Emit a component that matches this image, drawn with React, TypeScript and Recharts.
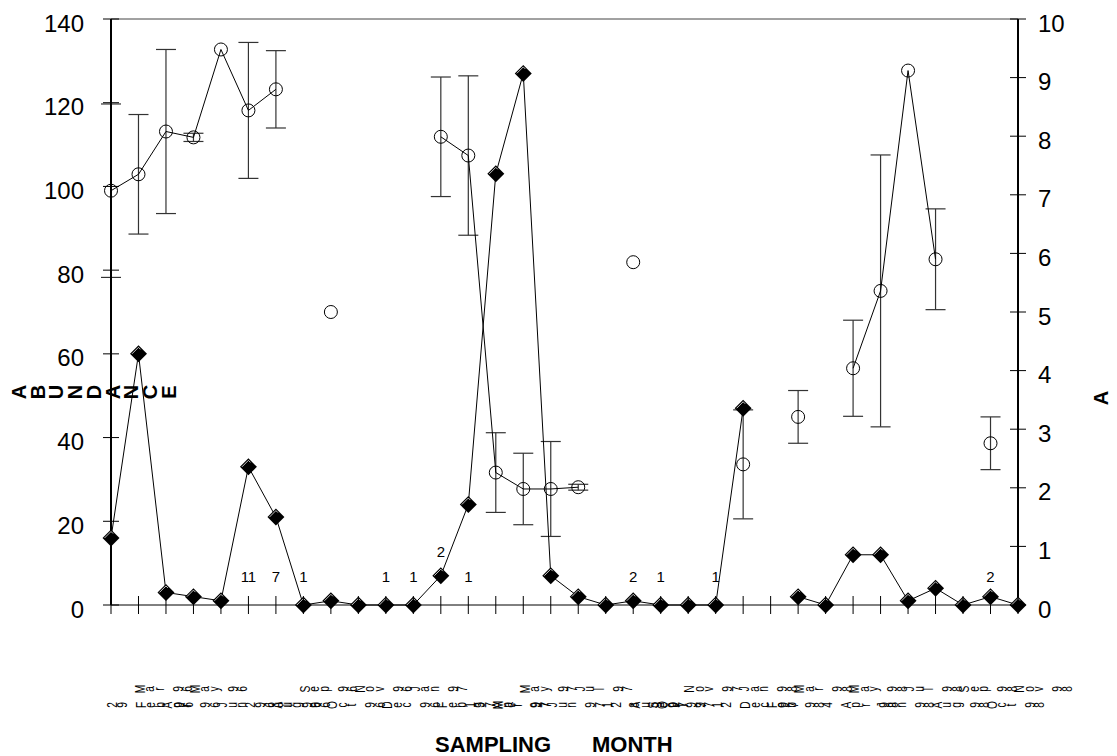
import React from "react";
import { ComposedChart, Line, XAxis, YAxis, ErrorBar, ReferenceLine, LabelList } from "recharts";

const FONT = "'Liberation Sans', Arial, Helvetica, sans-serif";

// sampling months, one per collection
const months = [
  "29 Feb 96", "Mar 96", "Apr 96", "May 96", "Jun 96", "2 Jul 96", "Aug 96", "Sep 96",
  "Oct 96", "Nov 96", "Dec 96", "Jan 97", "Feb 97", "13 Mar 97", "Apr 97", "May 97",
  "Jun 97", "Jul 97", "12 Aug 97", "8 Sep 97", "Oct 97", "Nov 97", "12 Dec 97", "Jan 98",
  "Feb 98", "Mar 98", "4 Apr 98", "May 98", "Jun 98", "Jul 98", "Aug 98", "Sep 98",
  "Oct 98", "Nov 98",
];

// abundance (left axis), filled diamonds
const abundance = [
  16, 60, 3, 2, 1, 33, 21, 0, 1, 0, 0, 0, 7, 24, 103, 127, 7, 2, 0, 1,
  0, 0, 0, 47, null, 2, 0, 12, 12, 1, 4, 0, 2, 0,
];

// mean value (right axis), open circles, with +/- error
const meanSize = [
  7.07, 7.35, 8.08, 7.98, 9.48, 8.44, 8.8, null, 5.0, null, null, null, 7.99, 7.67, 2.26, 1.98,
  1.98, 2.01, null, 5.85, null, null, null, 2.4, null, 3.21, null, 4.04, 5.36, 9.12, 5.9, null,
  2.76, null,
];
const sizeError = [
  1.48, 1.02, 1.4, 0.07, null, 1.16, 0.66, null, null, null, null, null, 1.02, 1.36, 0.68, 0.61,
  0.81, 0.05, null, null, null, null, null, 0.93, null, 0.45, null, 0.82, 2.32, null, 0.86, null,
  0.45, null,
];

// number of samples written above the axis, and the height it sits at (left axis units)
const sampleCount = [
  null, null, null, null, null, "11", "7", "1", null, null, "1", "1", "2", "1", null, null,
  null, null, null, "2", "1", null, "1", null, null, null, null, null, null, null, null, null,
  "2", null,
];
const countLevel = [
  null, null, null, null, null, 6.7, 6.7, 6.7, null, null, 6.7, 6.7, 12.7, 6.7, null, null,
  null, null, null, 6.7, 6.7, null, 6.7, null, null, null, null, null, null, null, null, null,
  6.7, null,
];

const leftTicks = [0, 20, 40, 60, 80, 100, 120, 140];
const rightTicks = [0, 1, 2, 3, 4, 5, 6, 7, 8, 9, 10];

const data = months.map((month, i) => ({
  month,
  abundance: abundance[i],
  size: meanSize[i],
  sizeErr: sizeError[i],
  count: sampleCount[i],
  countLevel: countLevel[i],
}));

function MonthTick({ x, y, payload }: any) {
  const label: string = String(payload.value);
  const i: number = payload.index ?? 0;
  // characters are stacked and turned on their side, two staggered rows
  const rowY = /^\d/.test(label) || i % 2 === 0 ? y + 100 : y + 84;
  return (
    <g>
      <line x1={x} x2={x} y1={y - 9} y2={y + 9} stroke="#000" strokeWidth={1} />
      {label.split("").map((ch, k) =>
        ch === " " ? null : (
          <text
            key={k}
            transform={`translate(${x + 1 + k * 9.5},${rowY}) rotate(-90) scale(0.85,1.25)`}
            textAnchor="middle"
            dominantBaseline="central"
            fontSize={12}
            fontFamily={FONT}
            fill="#000"
          >
            {ch}
          </text>
        )
      )}
    </g>
  );
}

function LeftTick({ x, y, payload }: any) {
  return (
    <g>
      <line x1={x - 8} x2={x + 8} y1={y} y2={y} stroke="#000" strokeWidth={1} />
      <text x={x - 27} y={y + 4} textAnchor="end" dominantBaseline="central" fontSize={24} fontFamily={FONT} fill="#000">
        {payload.value}
      </text>
    </g>
  );
}

function RightTick({ x, y, payload }: any) {
  return (
    <g>
      <line x1={x - 8} x2={x + 8} y1={y} y2={y} stroke="#000" strokeWidth={1} />
      <text x={x + 20} y={y + 4} textAnchor="start" dominantBaseline="central" fontSize={24} fontFamily={FONT} fill="#000">
        {payload.value}
      </text>
    </g>
  );
}

function Diamond(props: any) {
  const { cx, cy, index, payload } = props;
  if (cx == null || cy == null || payload?.abundance == null) return <g key={`dm-${index}`} />;
  const r = 8.5;
  return (
    <g key={`dm-${index}`}>
      <polygon points={`${cx},${cy - r} ${cx + r},${cy} ${cx},${cy + r} ${cx - r},${cy}`} fill="#000" />
      <polyline
        points={`${cx - r + 2},${cy} ${cx},${cy - r + 2} ${cx + 2},${cy - r + 4}`}
        fill="none"
        stroke="#d8d8d8"
        strokeWidth={0.9}
      />
    </g>
  );
}

function Ring(props: any) {
  const { cx, cy, index, payload } = props;
  if (cx == null || cy == null || payload?.size == null) return <g key={`rg-${index}`} />;
  return <circle key={`rg-${index}`} cx={cx} cy={cy} r={6.5} fill="none" stroke="#000" strokeWidth={1} />;
}

function StackedLabel({ text, x, y, step }: { text: string; x: number; y: number; step: number }) {
  return (
    <g>
      {text.split("").map((ch, k) => (
        <text
          key={k}
          transform={`translate(${x + k * step},${y}) rotate(-90)`}
          textAnchor="middle"
          dominantBaseline="central"
          fontSize={20}
          fontWeight="bold"
          fontFamily={FONT}
          fill="#000"
        >
          {ch}
        </text>
      ))}
    </g>
  );
}

export default function App() {
  return (
    <div style={{ position: "absolute", left: 0, top: 0, width: 1117, height: 756, background: "#fff" }}>
      <ComposedChart
        width={1117}
        height={756}
        data={data}
        margin={{ top: 19, right: 39, bottom: 51, left: 51 }}
      >
        <XAxis
          dataKey="month"
          interval={0}
          height={100}
          tickSize={0}
          tickMargin={0}
          tickLine={false}
          axisLine={{ stroke: "#000", strokeWidth: 1 }}
          tick={<MonthTick />}
        />
        <YAxis
          yAxisId="left"
          orientation="left"
          domain={[0, 140]}
          ticks={leftTicks}
          width={60}
          tickSize={0}
          tickMargin={0}
          tickLine={false}
          axisLine={{ stroke: "#000", strokeWidth: 2 }}
          tick={<LeftTick />}
        />
        <YAxis
          yAxisId="right"
          orientation="right"
          domain={[0, 10]}
          ticks={rightTicks}
          width={60}
          tickSize={0}
          tickMargin={0}
          tickLine={false}
          axisLine={{ stroke: "#000", strokeWidth: 2 }}
          tick={<RightTick />}
        />
        <ReferenceLine yAxisId="left" y={140} stroke="#444" strokeWidth={1} />
        <Line
          yAxisId="right"
          dataKey="size"
          stroke="#000"
          strokeWidth={1}
          dot={(p: any) => <Ring {...p} />}
          activeDot={false}
          isAnimationActive={false}
        >
          <ErrorBar dataKey="sizeErr" direction="y" width={10} stroke="#333" strokeWidth={1.2} />
        </Line>
        <Line
          yAxisId="left"
          dataKey="abundance"
          stroke="#000"
          strokeWidth={1}
          dot={(p: any) => <Diamond {...p} />}
          activeDot={false}
          isAnimationActive={false}
        />
        <Line
          yAxisId="left"
          dataKey="countLevel"
          stroke="none"
          dot={false}
          activeDot={false}
          isAnimationActive={false}
        >
          <LabelList dataKey="count" position="center" fontSize={15} fontFamily={FONT} fill="#000" />
        </Line>
      </ComposedChart>
      <svg
        width={1117}
        height={756}
        style={{ position: "absolute", left: 0, top: 0, pointerEvents: "none" }}
      >
        <StackedLabel text="ABUNDANCE" x={19} y={392} step={18.7} />
        <StackedLabel text="A" x={1101} y={398} step={18.7} />
        <text x={435} y={752} fontSize={22} fontWeight="bold" fontFamily={FONT} fill="#000">
          SAMPLING
        </text>
        <text x={592} y={752} fontSize={22} fontWeight="bold" fontFamily={FONT} fill="#000">
          MONTH
        </text>
      </svg>
    </div>
  );
}
